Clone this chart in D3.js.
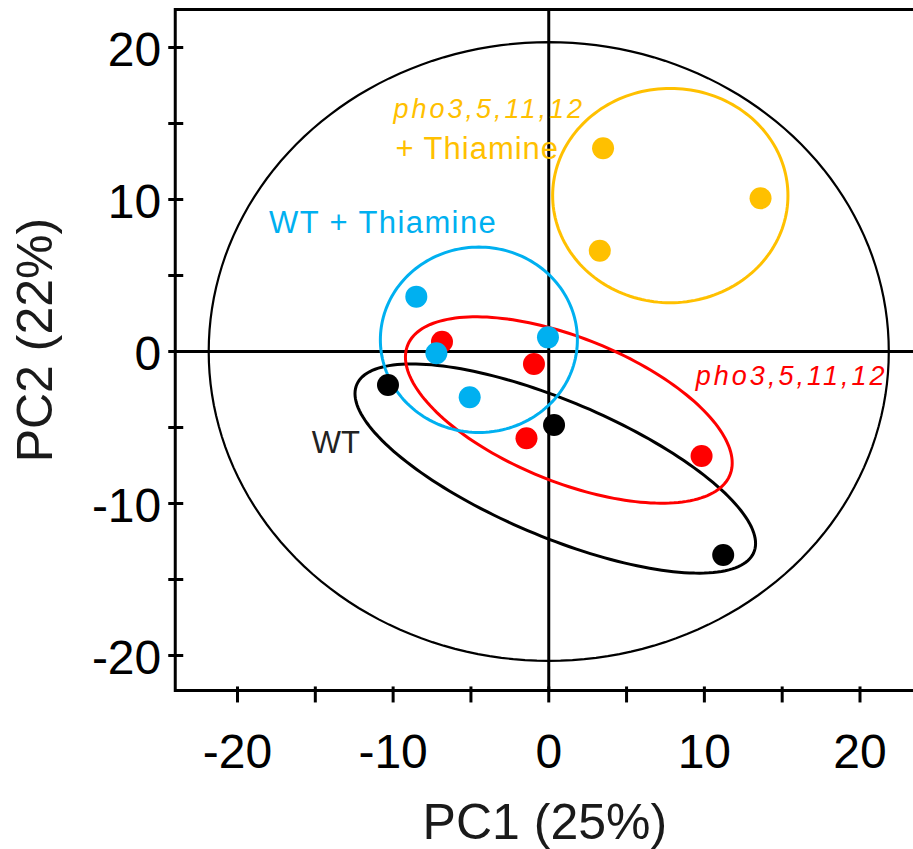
<!DOCTYPE html>
<html>
<head>
<meta charset="utf-8">
<script src="https://cdn.jsdelivr.net/npm/d3@7"></script>
<style>
html,body{margin:0;padding:0;background:#fff;}
svg{display:block;}
text{font-family:"Liberation Sans",Arial,sans-serif;}
</style>
</head>
<body>
<svg id="chart" width="913" height="849"></svg>
<script>
// ---------- data ----------
const groups = ["WT", "pho3,5,11,12", "WT + Thiamine", "pho3,5,11,12 + Thiamine"];
const groupColors = ["#000000", "#FF0000", "#00B0F0", "#FFC000"];

const wtPC1 = [-10.33, 0.34, 11.21];
const wtPC2 = [-2.20, -4.84, -13.39];
const phoPC1 = [-6.86, -0.95, -1.43, 9.82];
const phoPC2 = [0.64, -0.82, -5.71, -6.88];
const wtThPC1 = [-8.51, -7.22, -0.05, -5.08];
const wtThPC2 = [3.61, -0.12, 0.93, -3.01];
const phoThPC1 = [3.49, 13.61, 3.28];
const phoThPC2 = [13.37, 10.08, 6.63];

// confidence ellipses: centre, semi-axes (data units), rotation (deg, data space)
const ellCx = [0.42, 1.29, -4.49, 7.81];
const ellCy = [-7.7, -3.85, 0.77, 10.26];
const ellA = [13.9, 11.2, 6.33, 7.56];
const ellB = [4.45, 4.73, 6.1, 7.05];
const ellAngle = [-23.5, -22.6, 0, 0];

// Hotelling T2 ellipse
const hotCx = 0, hotCy = 0, hotA = 21.85, hotB = 20.35;

const xTicks = [-20, -15, -10, -5, 0, 5, 10, 15, 20];
const yTicks = [-20, -15, -10, -5, 0, 5, 10, 15, 20];
const xTickLabels = [-20, -10, 0, 10, 20];
const yTickLabels = [-20, -10, 0, 10, 20];
const xTitle = "PC1 (25%)";
const yTitle = "PC2 (22%)";

// ---------- scales ----------
const x = d3.scaleLinear().domain([-20, 20]).range([237.5, 860]);
const y = d3.scaleLinear().domain([-20, 20]).range([655.5, 47.5]);
const xLo = -24.0, xHi = 23.6, yLo = -22.3, yHi = 22.5;

const svg = d3.select("#chart");

// ---------- ellipse helper ----------
function ellipsePts(cx, cy, a, b, angDeg) {
  const th = angDeg * Math.PI / 180, n = 180, pts = [];
  for (let i = 0; i < n; i++) {
    const t = 2 * Math.PI * i / n;
    const ex = a * Math.cos(t), ey = b * Math.sin(t);
    pts.push([cx + ex * Math.cos(th) - ey * Math.sin(th),
              cy + ex * Math.sin(th) + ey * Math.cos(th)]);
  }
  return pts;
}
const line = d3.line().x(d => x(d[0])).y(d => y(d[1])).curve(d3.curveLinearClosed);

// ---------- frame ----------
const ax = svg.append("g").attr("stroke", "#000").attr("stroke-width", 3).attr("fill", "none");
ax.append("line").attr("x1", x(xLo)).attr("x2", x(xLo)).attr("y1", y(yHi) - 1.5).attr("y2", y(yLo) + 1.5);
ax.append("line").attr("x1", x(xLo)).attr("x2", x(xHi) + 20).attr("y1", y(yHi)).attr("y2", y(yHi));
ax.append("line").attr("x1", x(xLo)).attr("x2", x(xHi) + 20).attr("y1", y(yLo)).attr("y2", y(yLo));
// zero lines
ax.append("line").attr("x1", x(0)).attr("x2", x(0)).attr("y1", y(yHi)).attr("y2", y(yLo));
ax.append("line").attr("x1", x(xLo)).attr("x2", x(xHi) + 20).attr("y1", y(0)).attr("y2", y(0));

// ticks
ax.selectAll(".yt").data(yTicks).enter().append("line")
  .attr("x1", x(xLo) - 7).attr("x2", x(xLo) + 8)
  .attr("y1", d => y(d)).attr("y2", d => y(d));
ax.selectAll(".xt").data(xTicks).enter().append("line")
  .attr("y1", y(yLo) - 4).attr("y2", y(yLo) + 12)
  .attr("x1", d => x(d)).attr("x2", d => x(d));

// tick labels
svg.append("g").selectAll("text").data(yTickLabels).enter().append("text")
  .attr("x", x(xLo) - 14).attr("y", d => y(d) + 18)
  .attr("text-anchor", "end").attr("font-size", 48).attr("fill", "#000")
  .text(d => d);
svg.append("g").selectAll("text").data(xTickLabels).enter().append("text")
  .attr("x", d => x(d)).attr("y", y(yLo) + 78)
  .attr("text-anchor", "middle").attr("font-size", 48).attr("fill", "#000")
  .text(d => d);

// axis titles
svg.append("text").attr("x", x(-0.25)).attr("y", 839)
  .attr("text-anchor", "middle").attr("font-size", 50).attr("fill", "#1a1a1a")
  .text(xTitle);
svg.append("text").attr("transform", `translate(52,${y(0.75)}) rotate(-90)`)
  .attr("text-anchor", "middle").attr("font-size", 50).attr("fill", "#1a1a1a")
  .text(yTitle);

// ---------- Hotelling ellipse ----------
svg.append("path").attr("d", line(ellipsePts(hotCx, hotCy, hotA, hotB, 0)))
  .attr("fill", "none").attr("stroke", "#000").attr("stroke-width", 2.2);

// ---------- group ellipses ----------
svg.append("g").selectAll("path").data(groups).enter().append("path")
  .attr("d", (g, i) => line(ellipsePts(ellCx[i], ellCy[i], ellA[i], ellB[i], ellAngle[i])))
  .attr("fill", "none").attr("stroke", (g, i) => groupColors[i]).attr("stroke-width", 3);

// ---------- points ----------
const pcs = [[wtPC1, wtPC2], [phoPC1, phoPC2], [wtThPC1, wtThPC2], [phoThPC1, phoThPC2]];
pcs.forEach((p, gi) => {
  svg.append("g").selectAll("circle").data(p[0]).enter().append("circle")
    .attr("cx", d => x(d)).attr("cy", (d, j) => y(p[1][j])).attr("r", 11)
    .attr("fill", groupColors[gi]);
});

// ---------- group labels ----------
const lab = svg.append("g");
lab.append("text").attr("x", x(-15.23)).attr("y", y(-6.66))
  .attr("font-size", 31).attr("fill", "#222").text("WT");
lab.append("text").attr("x", x(-17.97)).attr("y", y(7.8))
  .attr("font-size", 31).attr("letter-spacing", 1.4).attr("fill", groupColors[2]).text("WT + Thiamine");
lab.append("text").attr("x", x(9.45)).attr("y", y(-2.2))
  .attr("font-size", 27).attr("font-style", "italic").attr("letter-spacing", 3)
  .attr("fill", groupColors[1]).text("pho3,5,11,12");
lab.append("text").attr("x", x(-9.98)).attr("y", y(15.37))
  .attr("font-size", 27).attr("font-style", "italic").attr("letter-spacing", 3)
  .attr("fill", groupColors[3]).text("pho3,5,11,12");
lab.append("text").attr("x", x(-9.85)).attr("y", y(12.65))
  .attr("font-size", 31).attr("letter-spacing", 1).attr("fill", groupColors[3]).text("+ Thiamine");
</script>
</body>
</html>
